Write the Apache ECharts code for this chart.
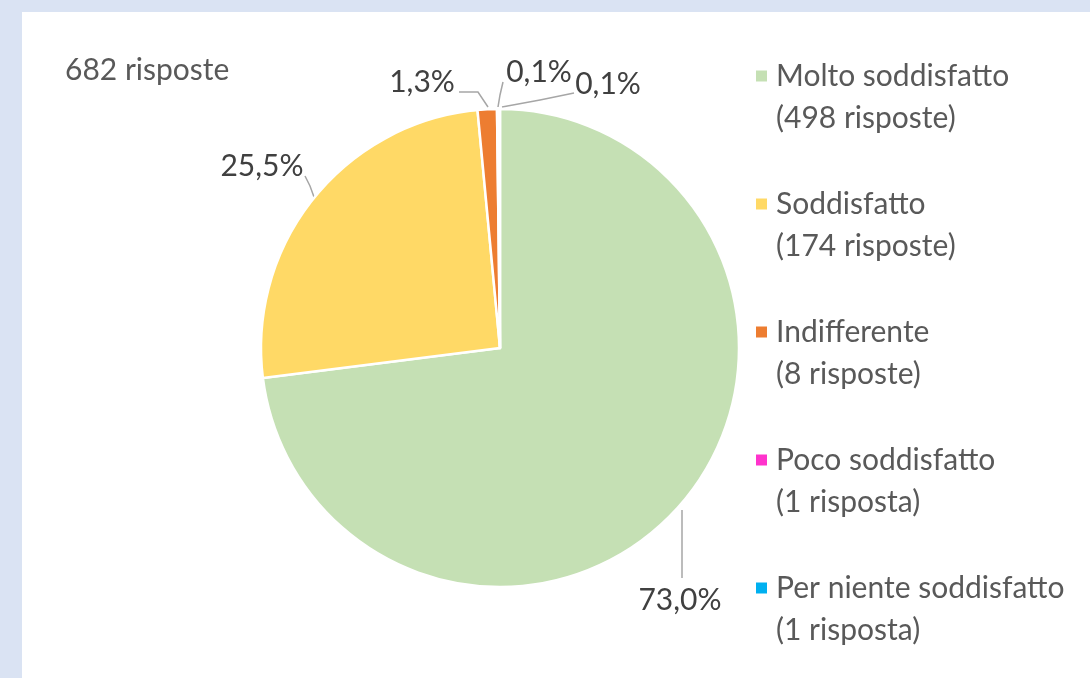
<!DOCTYPE html>
<html>
<head>
<meta charset="utf-8">
<script src="https://cdn.jsdelivr.net/npm/echarts@6/dist/echarts.min.js"></script>
<style>
  html, body { margin: 0; padding: 0; background: #dae3f3; }
  #chart { width: 1090px; height: 678px; }
</style>
</head>
<body>
<div id="chart"></div>
<script>
// risposte al questionario
const categories = ['Molto soddisfatto', 'Soddisfatto', 'Indifferente', 'Poco soddisfatto', 'Per niente soddisfatto'];
const percentages = [73.0, 25.5, 1.3, 0.1, 0.1];
const counts = ['498 risposte', '174 risposte', '8 risposte', '1 risposta', '1 risposta'];
const colors = ['#c5e0b4', '#ffd966', '#ed7d31', '#ff33cc', '#00b0f0'];
const totalLabel = '682 risposte';

const FONT = 'Lato';

// label positions (text centre + leader line), as in the original
const labelPos = [
  { x: 680, y: 600, line: [[682, 510], [682, 545], [682, 578]] },
  { x: 262, y: 166, line: [[314, 197], [310, 186], [305, 176]] },
  { x: 422, y: 82, line: [[488, 107], [478, 92], [459, 92]] },
  { x: 539, y: 72, line: [[498, 107], [500, 95], [503, 82]] },
  { x: 608, y: 84, line: [[502, 107], [540, 100], [574, 93]] }
];

var chart = echarts.init(document.getElementById('chart'));

chart.setOption({
  backgroundColor: '#dae3f3',
  animation: false,
  color: colors,
  graphic: [{
    type: 'rect',
    z: -10,
    shape: { x: 22, y: 12, width: 1068, height: 666 },
    style: { fill: '#ffffff' }
  }],
  title: {
    text: totalLabel,
    left: 65,
    top: 55,
    padding: 0,
    textStyle: { fontFamily: FONT, fontSize: 30, fontWeight: 'normal', color: '#595959' }
  },
  legend: {
    orient: 'vertical',
    left: 754,
    top: 13,
    padding: 0,
    itemGap: 2,
    itemWidth: 13,
    itemHeight: 13,
    icon: 'rect',
    selectedMode: false,
    // empty first line keeps the square level with the first text line
    formatter: function (name) {
      const i = categories.indexOf(name);
      return ' \n' + name + '\n(' + counts[i] + ')';
    },
    textStyle: { fontFamily: FONT, fontSize: 30, lineHeight: 42, color: '#595959', padding: [0, 0, 0, 3] }
  },
  series: [{
    type: 'pie',
    center: [500, 348],
    radius: 239,
    startAngle: 90,
    clockwise: true,
    avoidLabelOverlap: false,
    itemStyle: { borderColor: '#ffffff', borderWidth: 2.5 },
    label: {
      show: true,
      formatter: function (p) { return p.value.toFixed(1).replace('.', ',') + '%'; },
      fontFamily: FONT,
      fontSize: 30,
      color: '#404040'
    },
    labelLine: {
      show: true,
      lineStyle: { color: '#a6a6a6', width: 1.5 }
    },
    labelLayout: function (params) {
      const p = labelPos[params.dataIndex];
      return {
        x: p.x,
        y: p.y,
        align: 'center',
        verticalAlign: 'middle',
        labelLinePoints: p.line
      };
    },
    data: categories.map(function (c, i) {
      return { name: c, value: percentages[i] };
    })
  }]
});
</script>
</body>
</html>
